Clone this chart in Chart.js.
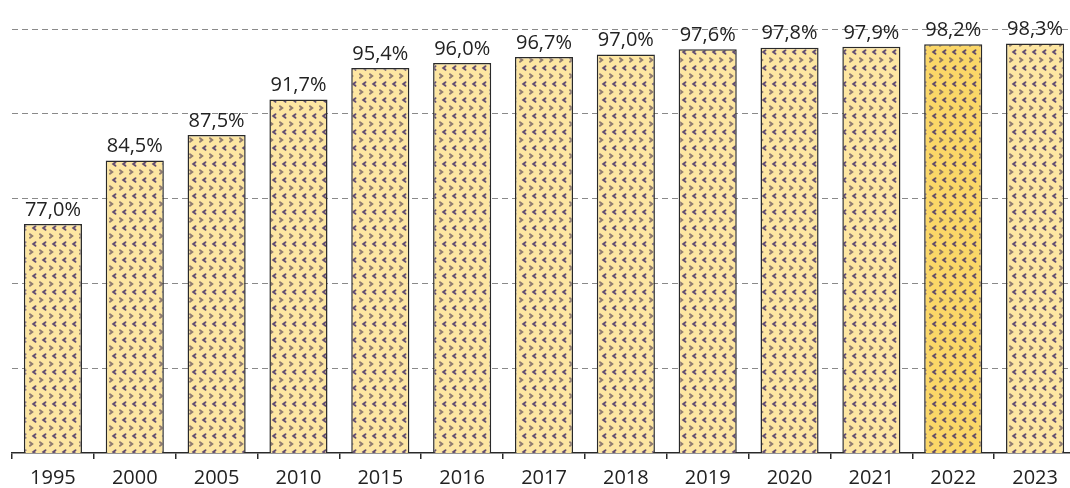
<!DOCTYPE html>
<html>
<head>
<meta charset="utf-8">
<script src="https://cdn.jsdelivr.net/npm/chart.js@4"></script>
<style>
  html, body { margin: 0; padding: 0; background: #fff; overflow: hidden; }
  #wrap { width: 1076px; height: 488px; position: relative; }
</style>
</head>
<body>
<div id="wrap"><canvas id="myChart"></canvas></div>
<script>
const years = ['1995','2000','2005','2010','2015','2016','2017','2018','2019','2020','2021','2022','2023']
const shares = [77.0, 84.5, 87.5, 91.7, 95.4, 96.0, 96.7, 97.0, 97.6, 97.8, 97.9, 98.2, 98.3]
const highlightYear = '2022'

function makePattern(bg){
    const c = document.createElement('canvas')
    c.width = 10
    c.height = 16
    const p = c.getContext('2d')
    p.fillStyle = bg
    p.fillRect(0,0,10,16)
    p.lineWidth = 1.9
    p.lineCap = 'round'
    // '<' mark, dark purple
    p.strokeStyle = 'rgba(70,50,105,0.85)'
    p.beginPath()
    p.moveTo(5.5,2.2); p.lineTo(3.2,4); p.lineTo(5.5,5.8)
    p.stroke()
    // '>' mark, greyish brown, offset half a tile
    p.strokeStyle = 'rgba(105,85,95,0.75)'
    p.beginPath()
    p.moveTo(0,10.2); p.lineTo(2.3,12); p.lineTo(0,13.8)
    p.moveTo(10,10.2); p.lineTo(12.3,12); p.lineTo(10,13.8)
    p.stroke()
    return p.createPattern(c,'repeat')
}

const ctx = document.getElementById('myChart').getContext('2d')
const lightFill = makePattern('#fde6a2')
const darkFill = makePattern('#fbd768')
const fontFamily = '"Open Sans", "Noto Sans", sans-serif'

const valueLabels = {
    id: 'valueLabels',
    afterDatasetsDraw(chart){
        const c = chart.ctx
        const meta = chart.getDatasetMeta(0)
        c.save()
        c.font = '20px ' + fontFamily
        c.fillStyle = '#222'
        c.textAlign = 'center'
        c.textBaseline = 'bottom'
        meta.data.forEach((bar,i)=>{
            c.fillText(shares[i].toFixed(1).replace('.',',') + '%', bar.x, bar.y - 4)
        })
        c.restore()
    }
}

new Chart(ctx, {
    type: 'bar',
    data: {
        labels: years,
        datasets: [{
            data: shares,
            backgroundColor: years.map(y => y === highlightYear ? darkFill : lightFill),
            borderColor: '#2a2a2a',
            borderWidth: 1.5,
            borderSkipped: 'bottom',
            barPercentage: 0.71,
            categoryPercentage: 1
        }]
    },
    options: {
        responsive: true,
        maintainAspectRatio: false,
        animation: false,
        layout: { padding: { left: 12, right: 0, top: 29, bottom: -9 } },
        plugins: { legend: { display: false }, tooltip: { enabled: false } },
        scales: {
            y: {
                min: 50,
                max: 100,
                ticks: { display: false, stepSize: 10 },
                border: { display: false, dash: [6,4] },
                grid: {
                    drawTicks: false,
                    tickLength: 0,
                    color: c => c.tick && c.tick.value === 50 ? 'rgba(0,0,0,0)' : '#8a8a8a',
                    lineWidth: 1
                }
            },
            x: {
                border: { display: true, color: '#2a2a2a', width: 1.5 },
                grid: {
                    drawOnChartArea: false,
                    drawTicks: true,
                    tickLength: 6,
                    color: '#2a2a2a',
                    lineWidth: 1.5
                },
                ticks: {
                    color: '#222',
                    font: { family: fontFamily, size: 20 },
                    padding: 7
                }
            }
        }
    },
    plugins: [valueLabels]
})
</script>
</body>
</html>
